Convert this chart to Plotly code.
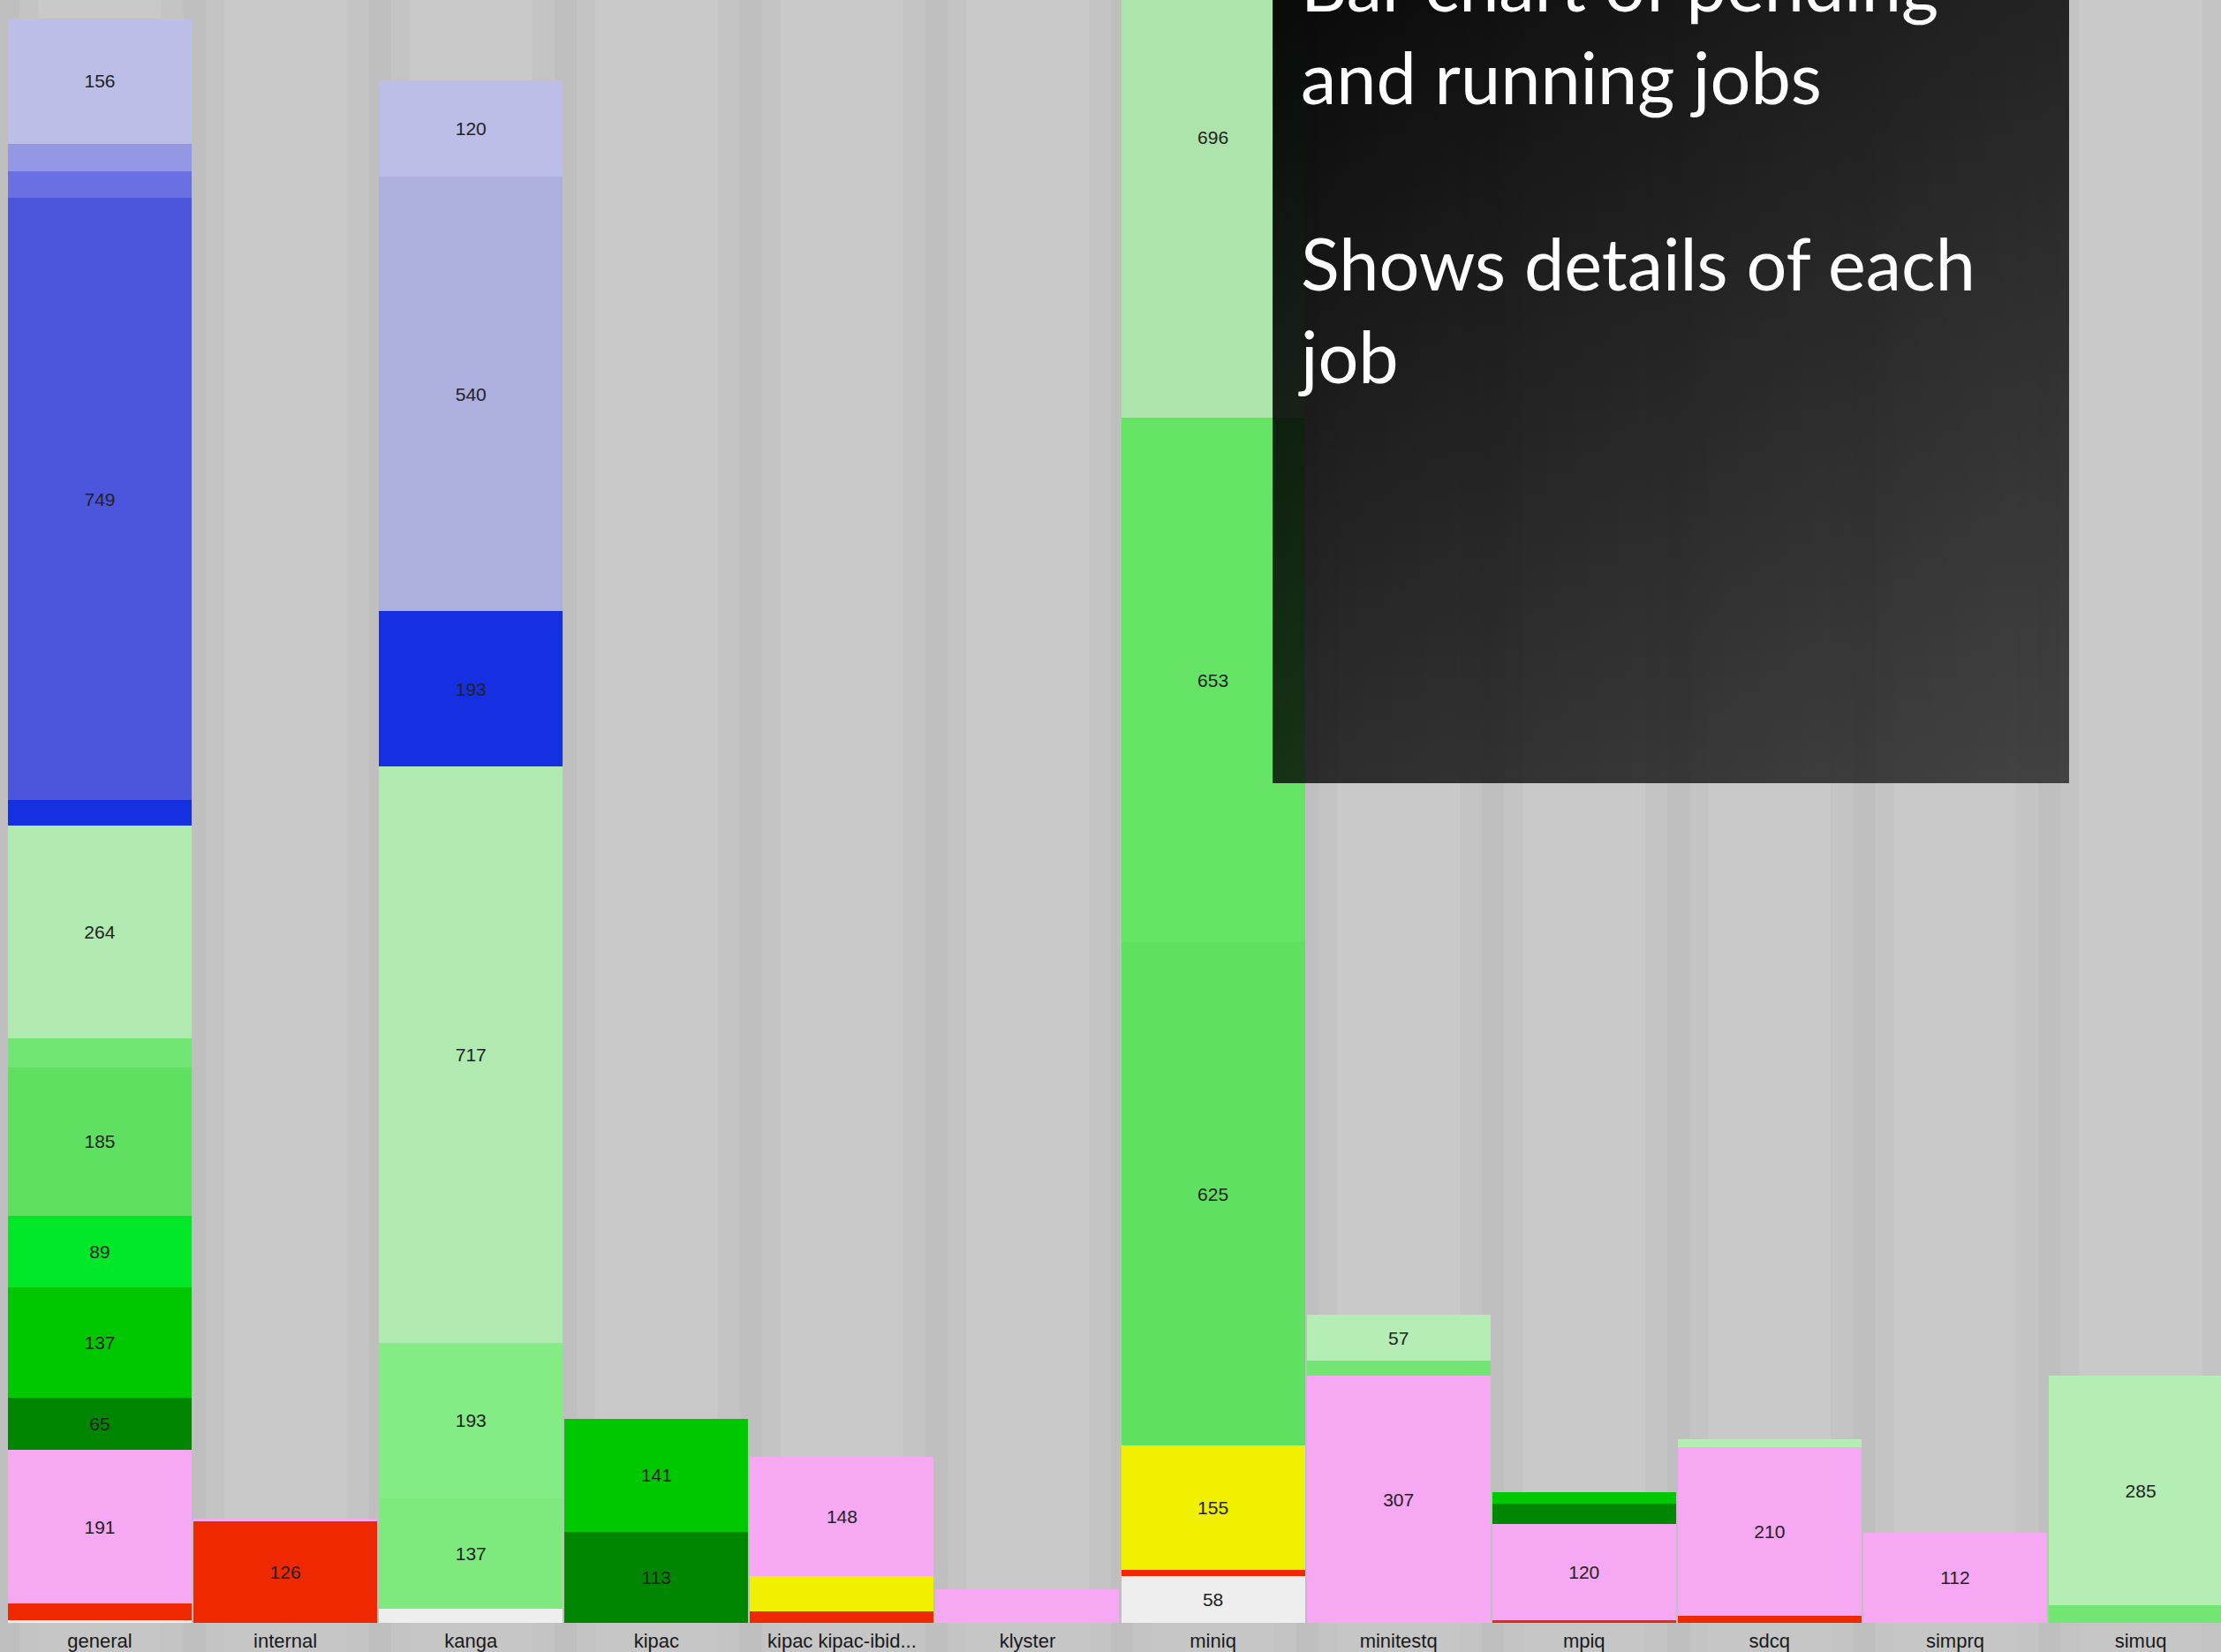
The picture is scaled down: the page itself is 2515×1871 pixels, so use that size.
import plotly.graph_objects as go

# Queues shown along the x axis
categories = ["general", "internal", "kanga", "kipac", "kipac kipac-ibid...", "klyster",
              "miniq", "minitestq", "mpiq", "sdcq", "simprq", "simuq"]

# Job counts per queue, stacked from the bottom up
general_jobs = [3, 21, 191, 65, 137, 89, 185, 36, 264, 32, 749, 33, 34, 156]
internal_jobs = [126, 4]
kanga_jobs = [18, 137, 193, 717, 193, 540, 120]
kipac_jobs = [113, 141]
kipac_ibid_jobs = [14, 44, 148]
klyster_jobs = [42]
miniq_jobs = [58, 8, 155, 625, 653, 696]
minitestq_jobs = [307, 19, 57]
mpiq_jobs = [3, 120, 25, 15]
sdcq_jobs = [9, 210, 9]
simprq_jobs = [112]
simuq_jobs = [22, 285]

# Job state of each stacked segment (same order as the counts)
general_state = ["white", "red", "pink", "dkgreen", "green", "bright", "mid", "mid2", "light",
                 "dkblue", "blue", "blue2", "blue3", "lav"]
internal_state = ["red", "pink"]
kanga_state = ["white", "mid3", "mid3b", "light", "dkblue", "lav2", "lav"]
kipac_state = ["dkgreen", "green"]
kipac_ibid_state = ["red", "yellow", "pink"]
klyster_state = ["pink"]
miniq_state = ["white", "red", "yellow", "mid", "midb", "light3"]
minitestq_state = ["pink", "mid2", "light2"]
mpiq_state = ["red", "pink", "dkgreen", "green"]
sdcq_state = ["red", "pink", "light2"]
simprq_state = ["pink"]
simuq_state = ["mid2", "light2"]

state_colors = {
    "white": "#eeeeee", "red": "#f02800", "pink": "#f6a8f2", "yellow": "#f0f000",
    "dkgreen": "#008600", "green": "#00c800", "bright": "#00e828",
    "mid": "#60e060", "midb": "#64e364", "mid2": "#72e672",
    "mid3": "#7eea7e", "mid3b": "#84ec84",
    "light": "#b0eab0", "light2": "#b4eeb4", "light3": "#ace4ac",
    "dkblue": "#1430e0", "blue": "#4c56dc", "blue2": "#6a70e2", "blue3": "#9498e4",
    "lav": "#bcbee8", "lav2": "#adafdf",
}

stacks = [
    (general_jobs, general_state), (internal_jobs, internal_state),
    (kanga_jobs, kanga_state), (kipac_jobs, kipac_state),
    (kipac_ibid_jobs, kipac_ibid_state), (klyster_jobs, klyster_state),
    (miniq_jobs, miniq_state), (minitestq_jobs, minitestq_state),
    (mpiq_jobs, mpiq_state), (sdcq_jobs, sdcq_state),
    (simprq_jobs, simprq_state), (simuq_jobs, simuq_state),
]

fig = go.Figure()

for cat, (counts, states) in zip(categories, stacks):
    for n, st in zip(counts, states):
        fig.add_trace(go.Bar(
            x=[cat], y=[n],
            marker=dict(color=state_colors[st], line=dict(width=0)),
            text=[str(n) if n >= 50 else ""],
            textposition="inside", insidetextanchor="middle", textangle=0,
            constraintext="none",
            textfont=dict(family="Liberation Sans", size=21, color="#222222"),
            hoverinfo="skip", showlegend=False,
        ))

# Translucent dark panel with the slide text, on an overlaying unit axis pair
bx0, bx1, by0, by1 = 0.573, 0.9316, 0.5174, 1.0
fig.add_trace(go.Scatter(
    x=[bx0, bx1, bx1, bx0, bx0], y=[by0, by0, by1, by1, by0],
    xaxis="x2", yaxis="y2", mode="none", fill="toself",
    fillgradient=dict(type="vertical", start=by0, stop=by1,
                      colorscale=[[0, "rgba(0,0,0,0.78)"], [1, "rgba(0,0,0,0.955)"]]),
    hoverinfo="skip", showlegend=False,
))
fig.add_trace(go.Scatter(
    x=[bx0, bx1, bx1, bx0, bx0], y=[by0, by0, by1, by1, by0],
    xaxis="x2", yaxis="y2", mode="none", fill="toself",
    fillgradient=dict(type="horizontal", start=bx0, stop=bx1,
                      colorscale=[[0, "rgba(255,255,255,0)"], [1, "rgba(255,255,255,0.11)"]]),
    hoverinfo="skip", showlegend=False,
))

# Soft column backdrop behind each queue
shapes = []
for i in range(-1, len(categories)):
    shapes.append(dict(type="rect", xref="x", yref="paper", layer="below",
                       x0=i + 0.5 - 0.17, x1=i + 0.5 + 0.17, y0=-0.02, y1=1,
                       fillcolor="#c4c4c4", line=dict(width=0)))
    shapes.append(dict(type="rect", xref="x", yref="paper", layer="below",
                       x0=i + 0.5 - 0.05, x1=i + 0.5 + 0.07, y0=-0.02, y1=1,
                       fillcolor="#bfbfbf", line=dict(width=0)))

fig.add_annotation(
    text="Bar chart of pending<br>and running jobs<br><br>Shows details of each<br>job",
    xref="paper", yref="paper", x=0.5838, y=1.0375, xanchor="left", yanchor="top",
    align="left", showarrow=False,
    font=dict(family="Lato", size=81, color="#ffffff"),
)

fig.update_layout(
    width=2515, height=1871,
    margin=dict(l=0, r=0, t=0, b=31),
    barmode="stack", bargap=0.01,
    plot_bgcolor="#c9c9c9", paper_bgcolor="#c6c6c6",
    shapes=shapes,
    xaxis=dict(type="category", categoryorder="array", categoryarray=categories,
               range=[-0.538, 11.433], showgrid=False, zeroline=False, ticks="",
               showline=False, ticklabelstandoff=5,
               tickfont=dict(family="Liberation Sans", size=22, color="#1a1a1a")),
    yaxis=dict(range=[0, 2018], visible=False, showgrid=False, zeroline=False),
    xaxis2=dict(overlaying="x", range=[0, 1], visible=False, anchor="y2"),
    yaxis2=dict(overlaying="y", range=[0, 1], visible=False, anchor="x2"),
)

fig.write_html("out.html")
